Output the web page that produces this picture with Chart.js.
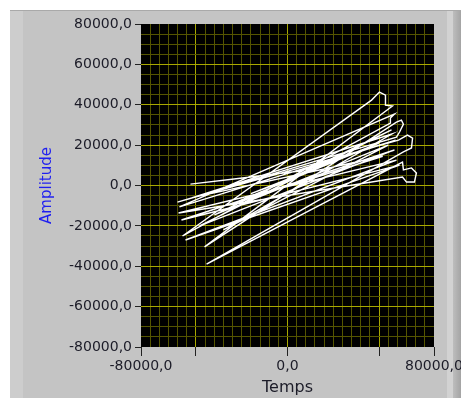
<!DOCTYPE html>
<html>
<head>
<meta charset="utf-8">
<script src="https://cdn.jsdelivr.net/npm/chart.js@4.4.0/dist/chart.umd.min.js"></script>
<style>
html, body { margin: 0; padding: 0; background: #fff; }
canvas { display: block; }
</style>
</head>
<body>
<canvas id="graphe" width="461" height="398"></canvas>
<script>
// Trace XY (Temps -> Amplitude)
const tempsValues = [
    -53000, -24600, 6600, 59000, -59000, 58400, 56200, 56200, -57300, 45900,
    50200, 53500, 53500, 57300, -45300, 59500, 62200, 63300, 61200, 59500,
    -60100, 60600, 65500, 68300, 67700, 63300, -44200, 62800, 63300, 67700,
    70400, 69300, 65000, 62800, -59500, 59500, -55700, 61200, -57900, 58400,
    -48000, 56800, -39900, 55000, -35000, 57000, -52000, 52000, -30000, 50000,
    -20000, 10000
];
const amplitudeValues = [
    700, 3700, 7200, 22500, -10600, 35400, 33400, 30900, -25000, 42300,
    46300, 44800, 39800, 39400, -30400, 31400, 32400, 30400, 26500, 24000,
    -8200, 22500, 25000, 23500, 18600, 16600, -38900, 11600, 7700, 8700,
    6200, 1700, 1700, 4200, -13600, 12600, -27000, 10100, -17100, 17600,
    -20000, 27500, -14600, 20000, -22000, 25500, -6000, 14500, -9000, 21000,
    -4000, 6000
];

// Graduations
const xLabelTicks = [-80000, 0, 80000];
const xTickMarks = [-80000, -50000, 0, 50000, 80000];
const xMajorGrid = [-50000, 0, 50000];
const yLabelTicks = [-80000, -60000, -40000, -20000, 0, 20000, 40000, 60000, 80000];
const yMajorGrid = [-60000, -40000, -20000, 0, 20000, 40000, 60000];

const minorGrid = '#555500';
const majorGrid = '#a8a800';

// Formatage style LabVIEW : virgule décimale
function fmt(v) {
    return v.toFixed(1).replace('.', ',');
}

function gridColor(ctx, majors) {
    const v = ctx.tick.value;
    if (v === -80000 || v === 80000) return 'rgba(0,0,0,0)';
    return majors.includes(v) ? majorGrid : minorGrid;
}

const points = tempsValues.map((x, i) => ({ x: x, y: amplitudeValues[i] }));

// Fond du panneau et zone de tracé noire
const fondPanneau = {
    id: 'fondPanneau',
    beforeDraw(chart) {
        const c = chart.ctx;
        const a = chart.chartArea;
        c.save();
        c.fillStyle = '#ffffff';
        c.fillRect(0, 0, chart.width, chart.height);
        c.fillStyle = '#c4c4c4';
        c.fillRect(10, 10, 440, chart.height - 10);
        c.fillStyle = '#cdcdcd';
        c.fillRect(10, 10, 13, chart.height - 10);
        c.fillStyle = '#d2d2d2';
        c.fillRect(447, 10, 6, chart.height - 10);
        const g = c.createLinearGradient(453, 0, 461, 0);
        g.addColorStop(0, '#bdbdbd');
        g.addColorStop(1, '#a4a4a4');
        c.fillStyle = g;
        c.fillRect(453, 10, 8, chart.height - 10);
        c.fillStyle = '#a9a9a9';
        c.fillRect(10, 10, 451, 1);
        c.fillStyle = '#000000';
        c.fillRect(a.left, a.top, a.right - a.left, a.bottom - a.top);
        c.restore();
    }
};

new Chart(document.getElementById('graphe').getContext('2d'), {
    type: 'scatter',
    data: {
        datasets: [{
            data: points,
            showLine: true,
            borderColor: '#ffffff',
            borderWidth: 1.4,
            pointRadius: 0,
            tension: 0,
            fill: false
        }]
    },
    options: {
        responsive: false,
        animation: false,
        layout: { padding: { top: 24, right: 27, left: 0, bottom: 0 } },
        plugins: {
            legend: { display: false },
            tooltip: { enabled: false }
        },
        scales: {
            x: {
                type: 'linear',
                min: -80000,
                max: 80000,
                border: { display: false },
                afterFit(scale) {
                    scale.height = 51;
                    scale.paddingLeft = 0;
                    scale.paddingRight = 0;
                },
                grid: {
                    color: (ctx) => gridColor(ctx, xMajorGrid),
                    lineWidth: 1,
                    tickLength: 9,
                    tickColor: (ctx) => xTickMarks.includes(ctx.tick.value) ? '#222222' : 'rgba(0,0,0,0)'
                },
                ticks: {
                    stepSize: 5000,
                    autoSkip: false,
                    maxTicksLimit: 100,
                    maxRotation: 0,
                    padding: 2,
                    color: '#1c1c28',
                    font: { family: 'DejaVu Sans', size: 14 },
                    callback: (v) => xLabelTicks.includes(v) ? fmt(v) : ''
                },
                title: {
                    display: true,
                    text: 'Temps',
                    color: '#1c1c28',
                    font: { family: 'DejaVu Sans', size: 16 },
                    padding: { top: 0, bottom: 1 }
                }
            },
            y: {
                type: 'linear',
                min: -80000,
                max: 80000,
                border: { display: false },
                afterFit(scale) {
                    scale.width = 141;
                    scale.paddingTop = 0;
                    scale.paddingBottom = 0;
                },
                grid: {
                    color: (ctx) => gridColor(ctx, yMajorGrid),
                    lineWidth: 1,
                    tickLength: 6,
                    tickColor: (ctx) => yLabelTicks.includes(ctx.tick.value) ? '#222222' : 'rgba(0,0,0,0)'
                },
                ticks: {
                    stepSize: 5000,
                    autoSkip: false,
                    maxTicksLimit: 100,
                    padding: 3,
                    color: '#1c1c28',
                    font: { family: 'DejaVu Sans', size: 14 },
                    callback: (v) => yLabelTicks.includes(v) ? fmt(v) : ''
                },
                title: {
                    display: true,
                    text: 'Amplitude',
                    color: '#1f1ff0',
                    font: { family: 'DejaVu Sans', size: 15 },
                    padding: { top: 38, bottom: 0 }
                }
            }
        }
    },
    plugins: [fondPanneau]
});
</script>
</body>
</html>
